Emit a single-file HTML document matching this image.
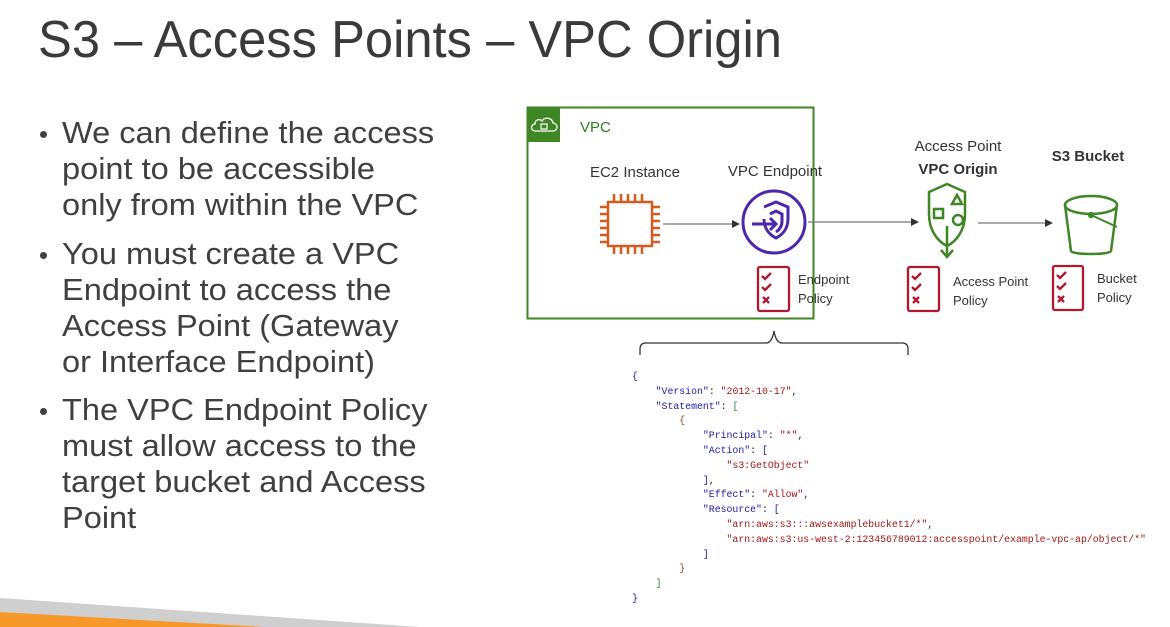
<!DOCTYPE html>
<html><head><meta charset="utf-8"><style>
body{margin:0;width:1170px;height:627px;overflow:hidden;background:#fff;position:relative;font-family:"Liberation Sans",sans-serif;color:#404040}
.a{position:absolute;white-space:nowrap}
.t{font-size:52px;left:38px;top:10px;transform-origin:0 0;transform:scaleX(0.975);color:#3a3a3a}
.b{font-size:31px;left:62px;line-height:36px;transform-origin:0 0;transform:scaleX(1.05)}
.dot{position:absolute;width:7px;height:7px;border-radius:50%;background:#404040;left:40px}
.l{font-size:15px;color:#333;text-align:center;width:140px}
.s{font-size:13px;color:#333;line-height:19px}
pre{position:absolute;margin:0;left:632px;top:370px;font-family:"Liberation Mono",monospace;font-size:9.85px;line-height:14.8px;color:#222}
.k{color:#1a1aa6}.v{color:#a31515}.g{color:#2a8a2a}.br{color:#8a4b2a}
</style></head><body>
<div class="a t">S3 – Access Points – VPC Origin</div>
<div class="dot" style="top:131px"></div>
<div class="a b" style="top:115px">We can define the access<br>point to be accessible<br>only from within the VPC</div>
<div class="dot" style="top:252px"></div>
<div class="a b" style="top:236px">You must create a VPC<br>Endpoint to access the<br>Access Point (Gateway<br>or Interface Endpoint)</div>
<div class="dot" style="top:408px"></div>
<div class="a b" style="top:392px">The VPC Endpoint Policy<br>must allow access to the<br>target bucket and Access<br>Point</div>

<svg class="a" style="left:0;top:0" width="1170" height="627">
<polygon points="0,598 420,627 0,627" fill="#cfcfcf"/>
<polygon points="0,612 265,627 0,627" fill="#f7992a"/>
<rect x="527.5" y="107.5" width="286" height="211" fill="none" stroke="#3f8624" stroke-width="2"/>
<rect x="527" y="107" width="33" height="35" fill="#3f8624"/>
<path d="M535 131 h18 a4 4 0 0 0 0-8 a6 6 0 0 0-11-2 a4 4 0 0 0-7 3 a3.5 3.5 0 0 0 0 7z" fill="none" stroke="#fff" stroke-width="1.3"/>
<rect x="541" y="124" width="6" height="5" fill="none" stroke="#fff" stroke-width="1.2"/>
<g stroke="#d45b1f" stroke-width="2.5" fill="none">
<rect x="608" y="202" width="44" height="44"/>
<path d="M614 202v-8M621 202v-8M628 202v-8M635 202v-8M642 202v-8M614 246v8M621 246v8M628 246v8M635 246v8M642 246v8M608 207h-8M608 214h-8M608 221h-8M608 228h-8M608 235h-8M608 242h-8M652 207h8M652 214h8M652 221h8M652 228h8M652 235h8M652 242h8"/>
</g>
<g stroke="#777" stroke-width="1.3"><line x1="663" y1="224" x2="733" y2="224"/><line x1="808" y1="222" x2="912" y2="222"/><line x1="978" y1="223" x2="1046" y2="223"/></g>
<g fill="#333"><path d="M740 224l-8-4v8z"/><path d="M919 222l-8-4v8z"/><path d="M1053 223l-8-4v8z"/></g>
<g stroke="#4d27aa" stroke-width="3" fill="none">
<circle cx="774" cy="222" r="31"/>
<path d="M764 207l12-5 12 5v12c0 10-6 16-12 19c-6-3-12-9-12-19" />
<path d="M770 214l6-3 6 3v7c0 6-3 9-6 11"/>
<path d="M752 224h24M770 218l6 6-6 6"/>
</g>
<g stroke="#3f8624" stroke-width="2.5" fill="none">
<path d="M947 184l18 8v22c0 18-10 28-18 32c-8-4-18-14-18-32v-22z"/>
<rect x="934" y="209" width="9" height="9"/>
<path d="M952 204l5-9 5 9z"/>
<circle cx="958" cy="220" r="5"/>
<path d="M947 226v30M941 250l6 7 6-7"/>
</g>
<g stroke="#3f8624" stroke-width="2.5" fill="none">
<ellipse cx="1091" cy="205" rx="26" ry="9"/>
<path d="M1065 205l6 46c2 4 38 4 40 0l6-46"/>
<path d="M1091 215l26 12" stroke-width="2"/>
<circle cx="1091" cy="215" r="2" fill="#3f8624"/>
</g>
<g stroke="#b0182e" stroke-width="2.3" fill="none">
<rect x="758" y="267" width="31" height="44" rx="2"/>
<rect x="908" y="267" width="31" height="44" rx="2"/>
<rect x="1053" y="266" width="30" height="44" rx="2"/>
<path d="M762 276l3 3 6-6M762 287l3 3 6-6M763 297l6 6M769 297l-6 6"/>
<path d="M912 276l3 3 6-6M912 287l3 3 6-6M913 297l6 6M919 297l-6 6"/>
<path d="M1057 275l3 3 6-6M1057 286l3 3 6-6M1058 296l6 6M1064 296l-6 6"/>
</g>
<path d="M640 355 v-6 q0-6 6-6 h120 q6 0 8-12 q2 12 8 12 h120 q6 0 6 6 v6" fill="none" stroke="#333" stroke-width="1.3"/>
</svg>
<div class="a" style="left:580px;top:119px;font-size:15px;color:#2e7d1f">VPC</div>
<div class="a l" style="left:565px;top:164px">EC2 Instance</div>
<div class="a l" style="left:705px;top:163px">VPC Endpoint</div>
<div class="a l" style="left:888px;top:138px">Access Point</div>
<div class="a l" style="left:888px;top:161px;font-weight:bold">VPC Origin</div>
<div class="a l" style="left:1018px;top:148px;font-weight:bold">S3 Bucket</div>
<div class="a s" style="left:798px;top:270px">Endpoint<br>Policy</div>
<div class="a s" style="left:953px;top:272px">Access Point<br>Policy</div>
<div class="a s" style="left:1097px;top:269px">Bucket<br>Policy</div>
<pre><span class="k">{</span>
    <span class="k">"Version"</span>: <span class="v">"2012-10-17"</span>,
    <span class="k">"Statement"</span>: <span class="g">[</span>
        <span class="br">{</span>
            <span class="k">"Principal"</span>: <span class="v">"*"</span>,
            <span class="k">"Action"</span>: <span class="k">[</span>
                <span class="v">"s3:GetObject"</span>
            <span class="k">]</span>,
            <span class="k">"Effect"</span>: <span class="v">"Allow"</span>,
            <span class="k">"Resource"</span>: <span class="k">[</span>
                <span class="v">"arn:aws:s3:::awsexamplebucket1/*"</span>,
                <span class="v">"arn:aws:s3:us-west-2:123456789012:accesspoint/example-vpc-ap/object/*"</span>
            <span class="k">]</span>
        <span class="br">}</span>
    <span class="g">]</span>
<span class="k">}</span></pre>
</body></html>
